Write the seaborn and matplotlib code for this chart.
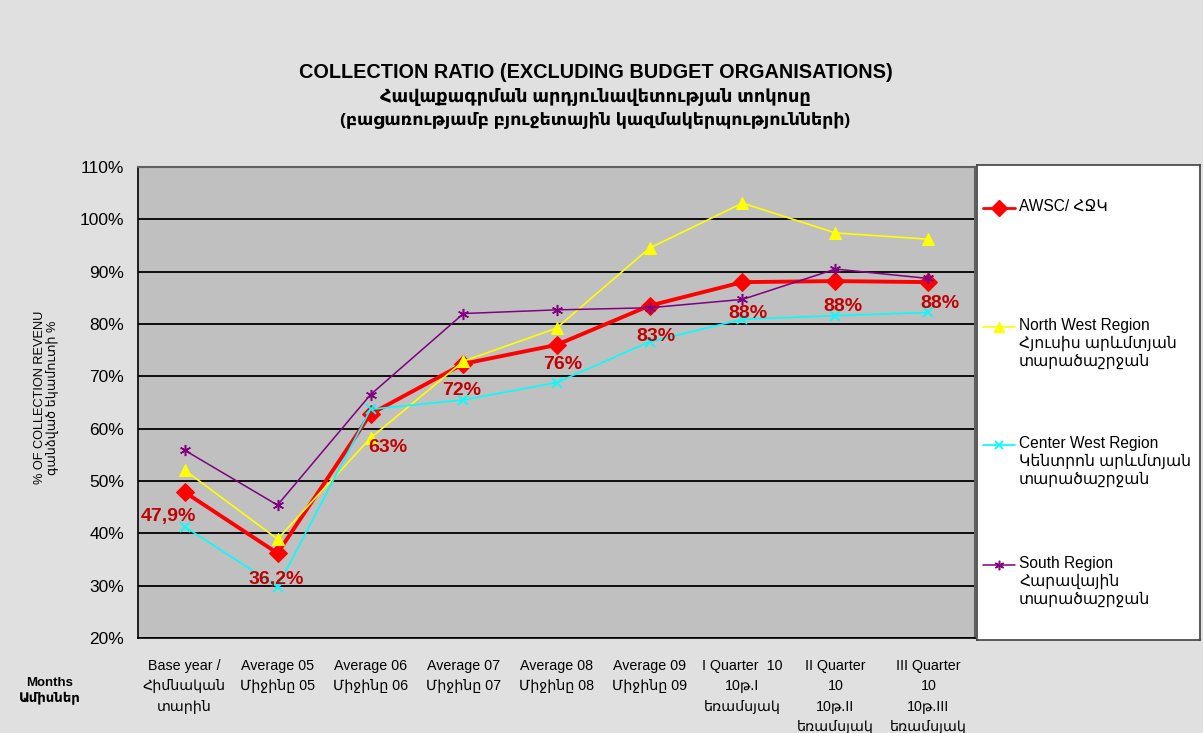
import numpy as np
import pandas as pd
import matplotlib
matplotlib.use("Agg")
import matplotlib.pyplot as plt
from matplotlib.lines import Line2D
from matplotlib.ticker import FixedLocator, FuncFormatter
import seaborn as sns

sns.set_theme(style="white")
plt.rcParams['font.family'] = ['Liberation Sans', 'DejaVu Sans']
for k in ["text.color", "axes.labelcolor", "xtick.color", "ytick.color"]:
    plt.rcParams[k] = "black"

# data
categories = [
    "Base year /\nՀիմնական\nտարին",
    "Average 05\nՄիջինը 05",
    "Average 06\nՄիջինը 06",
    "Average 07\nՄիջինը 07",
    "Average 08\nՄիջինը 08",
    "Average 09\nՄիջինը 09",
    "I Quarter  10\n10թ.I\nեռամսյակ",
    "II Quarter\n10\n10թ.II\nեռամսյակ",
    "III Quarter\n10\n10թ.III\nեռամսյակ",
]
awsc = [47.9, 36.2, 62.8, 72.4, 76.0, 83.5, 88.0, 88.2, 88.0]
north_west = [52.1, 38.9, 58.2, 72.9, 79.2, 94.5, 103.1, 97.4, 96.2]
center_west = [41.3, 29.8, 63.7, 65.5, 68.8, 76.6, 80.9, 81.6, 82.2]
south = [55.9, 45.4, 66.5, 82.0, 82.7, 83.1, 84.7, 90.5, 88.7]
awsc_labels = ["47,9%", "36,2%", "63%", "72%", "76%", "83%", "88%", "88%", "88%"]
series_names = [
    "AWSC/ ՀՋԿ",
    "North West Region\nՀյուսիս արևմտյան\nտարածաշրջան",
    "Center West Region\nԿենտրոն արևմտյան\nտարածաշրջան",
    "South Region\nՀարավային\nտարածաշրջան",
]

# label offsets (pixels) for the AWSC data labels
label_offsets = [(-16, -25), (-1, -26), (17, -33), (-2, -27), (6, -20),
                 (6, -31), (5, -31), (7, -25), (11, -21)]

bg = "#e0e0e0"
fig = plt.figure(figsize=(12.03, 7.33), dpi=100, facecolor=bg)
ax = fig.add_axes([138 / 1203, 95 / 733, 837 / 1203, 471 / 733])
ax.set_facecolor("#c0c0c0")

pos = np.arange(len(categories))
styles = [
    dict(color="#ff0000", marker="D", markersize=9, linewidth=2.8),
    dict(color="#ffff00", marker="^", markersize=8, linewidth=1.2),
    dict(color="#00ffff", marker="x", markersize=7, linewidth=1.2, markeredgewidth=1.3),
    dict(color="#800080", marker=(6, 2, 0), markersize=8, linewidth=1.1, markeredgewidth=1.1),
]
for vals, st in zip([awsc, north_west, center_west, south], styles):
    sns.lineplot(x=pos, y=vals, ax=ax, sort=False, markeredgecolor=st["color"], **st)

for i, (v, lab) in enumerate(zip(awsc, awsc_labels)):
    ax.annotate(lab, (pos[i], v), xytext=label_offsets[i], textcoords="offset pixels",
                ha="center", va="center", fontsize=14, fontweight="bold", color="#c00000")

ax.set_xlim(-0.5, len(categories) - 0.5)
ax.set_ylim(20, 110)
ax.yaxis.set_major_locator(FixedLocator(np.arange(20, 111, 10)))
ax.yaxis.set_major_formatter(FuncFormatter(lambda v, p: f"{v:.0f}%"))
ax.grid(axis="y", color="black", linewidth=1.3)
ax.grid(axis="x", visible=False)
ax.set_xticks(pos)
ax.set_xticklabels(categories, fontsize=10.3, linespacing=1.58, va="top")
ax.set_xticks(np.arange(-0.5, len(categories)), minor=True)
ax.tick_params(axis="x", which="major", length=0, pad=15)
ax.tick_params(axis="x", which="minor", length=6, width=1, color="black", direction="out")
ax.tick_params(axis="y", length=6, width=1, color="black", direction="out", labelsize=12.5, pad=4)
for s in ["left", "bottom"]:
    ax.spines[s].set_color("black")
    ax.spines[s].set_linewidth(1.2)
for s in ["top", "right"]:
    ax.spines[s].set_color("#606060")
    ax.spines[s].set_linewidth(1.5)

ax.set_ylabel("% OF COLLECTION REVENU\nգանձված եկամուտի %", fontsize=9.2, linespacing=1.05)
ax.yaxis.set_label_coords(-0.094, 0.51)

# legend box, entries laid out like the original chart's legend
lax = fig.add_axes([977 / 1203, 93 / 733, 223 / 1203, 475 / 733])
lax.set_facecolor("white")
lax.set_xlim(0, 223)
lax.set_ylim(475, 0)
lax.set_xticks([])
lax.set_yticks([])
for s in lax.spines.values():
    s.set_color("#404040")
    s.set_linewidth(1.2)
entry_tops = [43, 162, 280, 400]
for name, st, y in zip(series_names, styles, entry_tops):
    lax.add_line(Line2D([6, 38], [y, y], color=st["color"], linewidth=min(st["linewidth"], 2)))
    lax.add_line(Line2D([22], [y], color=st["color"], marker=st["marker"],
                        markersize=st["markersize"] * 0.85, markeredgecolor=st["color"],
                        markeredgewidth=st.get("markeredgewidth", 1)))
    lax.text(42, y - 9, name, ha="left", va="top", fontsize=11.2, linespacing=1.2)

fig.text(0.495, 1 - 73 / 733, "COLLECTION RATIO (EXCLUDING BUDGET ORGANISATIONS)",
         ha="center", va="center", fontsize=14.3, fontweight="bold")
fig.text(0.495, 1 - 97 / 733, "Հավաքագրման արդյունավետության տոկոսը",
         ha="center", va="center", fontsize=12.8, fontweight="bold")
fig.text(0.495, 1 - 120 / 733, "(բացառությամբ բյուջետային կազմակերպությունների)",
         ha="center", va="center", fontsize=12.5, fontweight="bold")
fig.text(50 / 1203, 1 - 691 / 733, "Months\nԱմիսներ", ha="center", va="center",
         fontsize=9.5, fontweight="bold", linespacing=1.25)

fig.savefig("out.png", dpi=100, facecolor=bg)
